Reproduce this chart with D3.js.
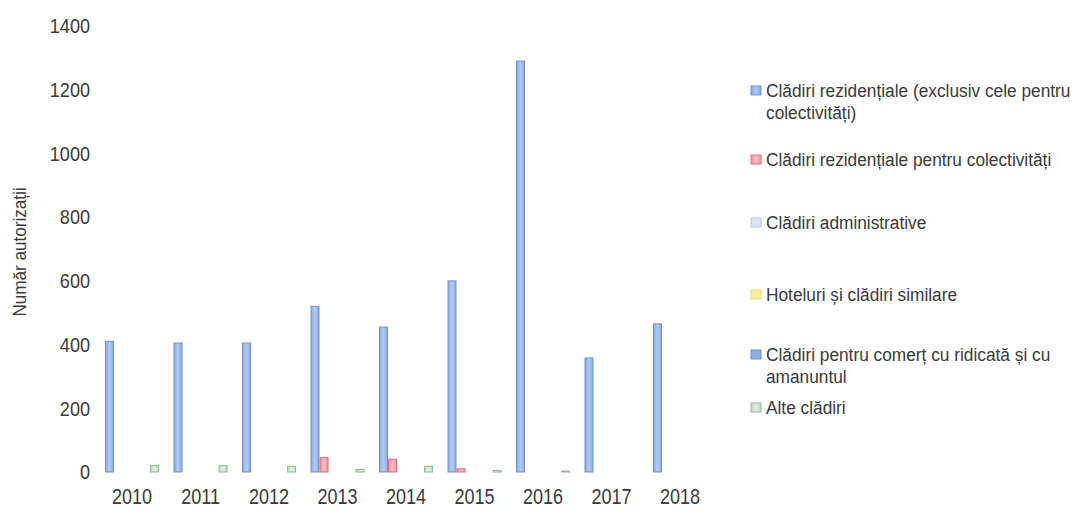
<!DOCTYPE html>
<html><head><meta charset="utf-8">
<script src="https://cdn.jsdelivr.net/npm/d3@7"></script>
<style>
body{margin:0;background:#fff;}
svg text{font-family:"Liberation Sans",Arial,sans-serif;fill:#3a3a3a;}
</style></head>
<body>
<svg id="c" width="1091" height="513"></svg>
<script>
const years = ["2010","2011","2012","2013","2014","2015","2016","2017","2018"];
const seriesNames = [
  "Clădiri rezidențiale (exclusiv cele pentru colectivități)",
  "Clădiri rezidențiale pentru colectivități",
  "Clădiri administrative",
  "Hoteluri și clădiri similare",
  "Clădiri pentru comerț cu ridicată și cu amanuntul",
  "Alte clădiri"
];
const rezidentiale   = [410, 405, 405, 520, 455, 600, 1290, 358, 465];
const colectivitati  = [0, 0, 0, 45, 40, 10, 0, 0, 0];
const administrative = [0, 0, 0, 0, 0, 0, 0, 0, 0];
const hoteluri       = [0, 0, 0, 0, 0, 0, 0, 0, 0];
const comert         = [0, 0, 0, 0, 0, 0, 0, 0, 0];
const alte           = [20, 20, 18, 8, 18, 5, 3, 0, 0];
const yTicks = [0, 200, 400, 600, 800, 1000, 1200, 1400];
const legendLines = [
  ["Clădiri rezidențiale (exclusiv cele pentru", "colectivități)"],
  ["Clădiri rezidențiale pentru colectivități"],
  ["Clădiri administrative"],
  ["Hoteluri și clădiri similare"],
  ["Clădiri pentru comerț cu ridicată și cu", "amanuntul"],
  ["Alte clădiri"]
];

const seriesValues = [rezidentiale, colectivitati, administrative, hoteluri, comert, alte];
const fills = ["url(#gBlue)", "url(#gRed)", "#dde5f3", "#f7efa0", "#8fb0e2", "url(#gGreen)"];
const strokes = ["#7096d8", "#e0707e", "#b8c6e0", "#e8dc70", "#6f92d0", "#8cbc90"];

const svg = d3.select("#c");
const defs = svg.append("defs");
function grad(id, edge, mid){
  const g = defs.append("linearGradient").attr("id", id).attr("x1","0").attr("x2","1").attr("y1","0").attr("y2","0");
  g.append("stop").attr("offset","0").attr("stop-color", edge);
  g.append("stop").attr("offset","0.5").attr("stop-color", mid);
  g.append("stop").attr("offset","1").attr("stop-color", edge);
}
grad("gBlue", "#86a9e4", "#b3cbf1");
grad("gRed", "#f0909c", "#f8c0c6");
grad("gGreen", "#bcdcc0", "#e2f0e0");

// condense text horizontally (narrow font look)
function narrow(sel, f){
  sel.each(function(){
    const len = this.getComputedTextLength();
    d3.select(this).attr("textLength", len * f).attr("lengthAdjust", "spacingAndGlyphs");
  });
}

const x0 = d3.scaleBand().domain(years).range([97.8, 714.3]).paddingInner(0.21).paddingOuter(0.105);
const x1 = d3.scaleBand().domain(d3.range(seriesNames.length)).range([0, x0.bandwidth()]).padding(0);
const y = d3.scaleLinear().domain([0, 1400]).range([472, 26]);

// y axis
const yAxis = d3.axisLeft(y).tickValues(yTicks).tickSize(0).tickPadding(0).tickFormat(d3.format("d"));
const ya = svg.append("g").attr("transform", "translate(90,0)").call(yAxis);
ya.select(".domain").remove();
ya.selectAll("text").attr("font-size", 21).attr("fill", "#4a4a4a").style("font-family", null).call(narrow, 0.86);

// x axis
const xAxis = d3.axisBottom(x0).tickSize(0).tickPadding(0);
const xa = svg.append("g").attr("transform", "translate(0,488)").call(xAxis);
xa.select(".domain").remove();
xa.selectAll("text").attr("font-size", 22).attr("fill", "#4a4a4a").style("font-family", null).call(narrow, 0.82);

// y title
svg.append("text").attr("transform", "translate(19,252) rotate(-90)")
  .attr("text-anchor", "middle").attr("dy", "0.35em").attr("font-size", 19).attr("fill", "#4a4a4a")
  .text("Număr autorizații").call(narrow, 0.9);

// bars
const groups = svg.append("g").selectAll("g").data(years).join("g")
  .attr("transform", d => `translate(${x0(d)},0)`);
groups.selectAll("rect").data((d, i) => seriesValues.map((s, k) => ({k, v: s[i]})).filter(e => e.v > 0))
  .join("rect")
  .attr("x", d => x1(d.k) + 0.5)
  .attr("width", x1.bandwidth() - 1)
  .attr("y", d => y(d.v))
  .attr("height", d => y(0) - y(d.v))
  .attr("fill", d => fills[d.k])
  .attr("stroke", d => strokes[d.k])
  .attr("stroke-width", 1);

// legend
const legendY = [91, 160, 223, 295, 355, 408];
const lg = svg.append("g");
legendLines.forEach((lines, k) => {
  const cy = legendY[k];
  lg.append("rect").attr("x", 751).attr("y", cy - 5).attr("width", 10).attr("height", 9)
    .attr("fill", fills[k]).attr("stroke", strokes[k]).attr("stroke-width", 1);
  lines.forEach((t, j) => {
    lg.append("text").attr("x", 766).attr("y", cy + j * 22).attr("dy", "0.35em")
      .attr("font-size", 18).attr("fill", "#3a3a3a").text(t).call(narrow, 0.96);
  });
});
</script>
</body></html>
